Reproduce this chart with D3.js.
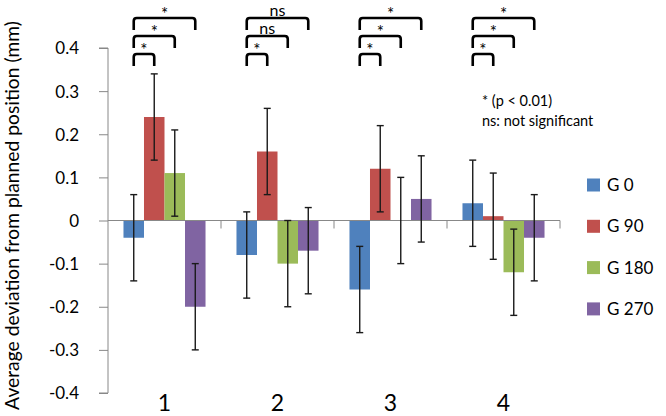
<!DOCTYPE html>
<html>
<head>
<meta charset="utf-8">
<script src="https://cdn.jsdelivr.net/npm/d3@7/dist/d3.min.js"></script>
<style>
  html, body { margin: 0; padding: 0; background: #fff; }
  svg { display: block; font-family: Lato, "Open Sans", sans-serif; }
</style>
</head>
<body>
<svg id="chart" width="666" height="416"></svg>
<script>
// ---- data ----
const categories = ["1", "2", "3", "4"];
const seriesNames = ["G 0", "G 90", "G 180", "G 270"];
const seriesColors = ["#4F81BD", "#C0504D", "#9BBB59", "#8064A2"];
// values[series][category]
const valuesG0   = [-0.04, -0.08, -0.16, 0.04];
const valuesG90  = [0.24, 0.16, 0.12, 0.01];
const valuesG180 = [0.11, -0.10, 0.00, -0.12];
const valuesG270 = [-0.20, -0.07, 0.05, -0.04];
const errorG0   = [0.10, 0.10, 0.10, 0.10];
const errorG90  = [0.10, 0.10, 0.10, 0.10];
const errorG180 = [0.10, 0.10, 0.10, 0.10];
const errorG270 = [0.10, 0.10, 0.10, 0.10];
const yTicks = [-0.4, -0.3, -0.2, -0.1, 0, 0.1, 0.2, 0.3, 0.4];
const yTickLabels = ["-0.4", "-0.3", "-0.2", "-0.1", "0", "0.1", "0.2", "0.3", "0.4"];
// significance: G0 vs G90, G0 vs G180, G0 vs G270 per category
const sigVs90  = ["*", "*", "*", "*"];
const sigVs180 = ["*", "ns", "*", "*"];
const sigVs270 = ["*", "ns", "*", "*"];
const noteLines = ["* (p < 0.01)", "ns: not significant"];
const yTitle = "Average deviation from planned position (mm)";

const allValues = [valuesG0, valuesG90, valuesG180, valuesG270];
const allErrors = [errorG0, errorG90, errorG180, errorG270];
const allSig = [sigVs90, sigVs180, sigVs270];

const rows = [];
categories.forEach((c, ci) => {
  seriesNames.forEach((s, si) => {
    rows.push({cat: c, series: s, si, value: allValues[si][ci], err: allErrors[si][ci]});
  });
});

// ---- layout ----
const svg = d3.select("#chart");
const plotLeft = 108, plotRight = 560, plotTop = 48, plotBottom = 393;

const y = d3.scaleLinear().domain([-0.4, 0.4]).range([plotBottom, plotTop]);
const x0 = d3.scaleBand().domain(categories).range([plotLeft, plotRight]).paddingInner(0).paddingOuter(0);
const gw = x0.bandwidth();
const x1 = d3.scaleBand().domain(seriesNames).range([gw * 0.137, gw * 0.863]).padding(0);

const axisColor = "#888888";

// bars
svg.append("g").selectAll("rect").data(rows).join("rect")
  .attr("x", d => x0(d.cat) + x1(d.series))
  .attr("width", x1.bandwidth())
  .attr("y", d => y(Math.max(0, d.value)))
  .attr("height", d => Math.abs(y(d.value) - y(0)))
  .attr("fill", (d) => seriesColors[d.si]);

// y axis
const yAxis = d3.axisLeft(y).tickValues(yTicks)
  .tickFormat((d, i) => yTickLabels[i]).tickSize(9).tickPadding(20);
const gy = svg.append("g").attr("transform", `translate(${plotLeft},0)`).call(yAxis);
gy.select(".domain").attr("stroke", axisColor).attr("d", `M-9,${plotTop}H0V${plotBottom}H-9`);
gy.selectAll(".tick line").attr("stroke", axisColor);
gy.selectAll(".tick text").attr("font-size", 17).attr("fill", "#000")
  .attr("font-family", "Lato, sans-serif").attr("x", -29).attr("dy", "0.35em");

// x axis at zero
const zeroY = y(0);
const gx = svg.append("g");
gx.append("line").attr("x1", plotLeft).attr("x2", plotRight).attr("y1", zeroY).attr("y2", zeroY)
  .attr("stroke", axisColor).attr("stroke-width", 1);
const boundaries = categories.map(c => x0(c) + gw);
gx.selectAll("line.tk").data(boundaries).join("line").attr("class", "tk")
  .attr("x1", d => d).attr("x2", d => d).attr("y1", zeroY).attr("y2", zeroY + 8)
  .attr("stroke", axisColor);
// category labels at bottom
svg.append("g").selectAll("text").data(categories).join("text")
  .attr("x", d => x0(d) + gw / 2).attr("y", 411)
  .attr("text-anchor", "middle").attr("font-size", 23).attr("fill", "#000")
  .text(d => d);

// error bars
const eb = svg.append("g").attr("stroke", "#1a1a1a").attr("stroke-width", 1.4);
rows.forEach(d => {
  const cx = x0(d.cat) + x1(d.series) + x1.bandwidth() / 2;
  const yt = y(d.value + d.err), yb = y(d.value - d.err);
  eb.append("line").attr("x1", cx).attr("x2", cx).attr("y1", yt).attr("y2", yb);
  eb.append("line").attr("x1", cx - 3.5).attr("x2", cx + 3.5).attr("y1", yt).attr("y2", yt);
  eb.append("line").attr("x1", cx - 3.5).attr("x2", cx + 3.5).attr("y1", yb).attr("y2", yb);
});

// significance brackets
const bracketTops = [54, 36, 18];
const legH = 12, r = 3;
const br = svg.append("g");
categories.forEach((c, ci) => {
  const xa = x0(c) + x1(seriesNames[0]) + x1.bandwidth() / 2;
  [1, 2, 3].forEach((si, k) => {
    const xb = x0(c) + x1(seriesNames[si]) + x1.bandwidth() / 2;
    const t = bracketTops[k];
    br.append("path")
      .attr("d", `M${xa},${t + legH}V${t + r}Q${xa},${t} ${xa + r},${t}H${xb - r}Q${xb},${t} ${xb},${t + r}V${t + legH}`)
      .attr("fill", "none").attr("stroke", "#000").attr("stroke-width", 2.6);
    const lab = allSig[k][ci];
    br.append("text")
      .attr("x", (xa + xb) / 2).attr("y", lab === "*" ? t + 2 : t - 2)
      .attr("text-anchor", "middle").attr("font-size", lab === "*" ? 17 : 16)
      .attr("fill", "#000").text(lab);
  });
});

// note
svg.append("g").selectAll("text").data(noteLines).join("text")
  .attr("x", 482).attr("y", (d, i) => 106 + i * 20)
  .attr("font-size", 14.5).attr("fill", "#000").text(d => d);

// legend
const lg = svg.append("g");
seriesNames.forEach((s, i) => {
  const cy = 185 + i * 41.3;
  lg.append("rect").attr("x", 587).attr("y", cy - 6.5).attr("width", 13).attr("height", 13)
    .attr("fill", seriesColors[i]);
  lg.append("text").attr("x", 607).attr("y", cy).attr("dy", "0.36em")
    .attr("font-size", 17).attr("fill", "#000").text(s);
});

// y title
const yt = svg.append("text")
  .attr("transform", "translate(19,215.5) rotate(-90)")
  .attr("text-anchor", "middle").attr("font-size", 16).attr("fill", "#000")
  .text(yTitle);
const len = yt.node().getComputedTextLength();
yt.attr("font-size", 16 * 389 / len);
</script>
</body>
</html>
